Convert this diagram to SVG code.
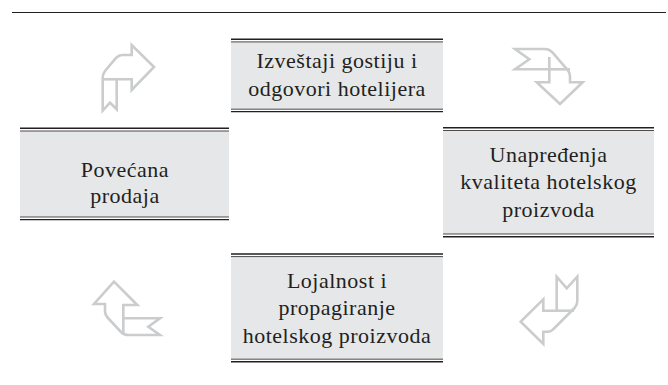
<svg xmlns="http://www.w3.org/2000/svg" width="668" height="385" viewBox="0 0 668 385">
<style>
.box{fill:#e6e7e8;stroke:none}
.thick{stroke:#231f20;stroke-width:1.4;fill:none}
.thin{stroke:#231f20;stroke-width:0.8;fill:none}
.lbl{font-family:"Liberation Serif","Times New Roman",serif;font-size:22px;fill:#231f20;text-anchor:middle;letter-spacing:0.5px}
.arr{fill:none;stroke:#cbcccd;stroke-width:2.6;stroke-linejoin:miter}
</style>
<rect width="668" height="385" fill="#ffffff"/>
<line x1="12" y1="12.5" x2="666" y2="12.5" stroke="#231f20" stroke-width="1.2"/>

<g id="node-top">
<rect class="box" x="231" y="41.7" width="212" height="67.6"/>
<line class="thick" x1="231" y1="39.3" x2="443" y2="39.3"/>
<line class="thin" x1="231" y1="41.9" x2="443" y2="41.9"/>
<line class="thin" x1="231" y1="109.2" x2="443" y2="109.2"/>
<line class="thick" x1="231" y1="111.6" x2="443" y2="111.6"/>
<text class="lbl" x="337" y="68">Izveštaji gostiju i</text>
<text class="lbl" x="337" y="96">odgovori hotelijera</text>
</g>

<g id="node-left">
<rect class="box" x="20" y="131" width="209" height="86"/>
<line class="thick" x1="20" y1="128.3" x2="229" y2="128.3"/>
<line class="thin" x1="20" y1="131" x2="229" y2="131"/>
<line class="thin" x1="20" y1="217" x2="229" y2="217"/>
<line class="thick" x1="20" y1="219.6" x2="229" y2="219.6"/>
<text class="lbl" x="125" y="177">Povećana</text>
<text class="lbl" x="125" y="203">prodaja</text>
</g>

<g id="node-right">
<rect class="box" x="443" y="130.5" width="211" height="103.5"/>
<line class="thick" x1="443" y1="127.7" x2="654" y2="127.7"/>
<line class="thin" x1="443" y1="130.5" x2="654" y2="130.5"/>
<line class="thin" x1="443" y1="234" x2="654" y2="234"/>
<line class="thick" x1="443" y1="236.8" x2="654" y2="236.8"/>
<text class="lbl" x="548.5" y="162">Unapređenja</text>
<text class="lbl" x="548.5" y="189">kvaliteta hotelskog</text>
<text class="lbl" x="548.5" y="217">proizvoda</text>
</g>

<g id="node-bottom">
<rect class="box" x="231" y="256.5" width="212" height="102.7"/>
<line class="thick" x1="231" y1="254" x2="443" y2="254"/>
<line class="thin" x1="231" y1="256.6" x2="443" y2="256.6"/>
<line class="thin" x1="231" y1="359.2" x2="443" y2="359.2"/>
<line class="thick" x1="231" y1="361.8" x2="443" y2="361.8"/>
<text class="lbl" x="337" y="288">Lojalnost i</text>
<text class="lbl" x="337" y="315">propagiranje</text>
<text class="lbl" x="337" y="343">hotelskog proizvoda</text>
</g>

<g id="connectors">
<g id="arrow-top-left">
<path class="arr" d="M154,67 L131.7,45 L131.7,55 L122,55 Q119,55 116,58 L105,71 Q102.7,74 102.7,78 L102.7,110.7 L110,102.7 L116.7,109.3 L116.7,79.3 L131.7,79.3 L131.7,90 Z"/>
<line class="arr" x1="102.7" y1="79.3" x2="116.7" y2="79.3"/>
</g>
<g id="arrow-top-right">
<path class="arr" d="M515,49 L545,49 Q549,49 552,52 L566,68 Q570,72 570,77 L570,82.3 L582.7,82.3 L560,104 L536.7,82.3 L549.3,82.3 L549.3,69.3 L515,69.3 L529.3,59.3 Z"/>
<line class="arr" x1="549.3" y1="69.3" x2="570" y2="69.3"/>
<line class="arr" x1="549.3" y1="69.3" x2="549.3" y2="57"/>
</g>
<g id="arrow-bottom-left">
<path class="arr" d="M114,281.7 L137.3,305 L123.3,305 L123.3,318.3 L160,318.3 L148.3,326.7 L160,335 L128,335 Q124,335 121,332 L108,318 Q105,315 105,311 L105,304 L94,304 Z"/>
<line class="arr" x1="123.3" y1="318.3" x2="123.3" y2="334"/>
</g>
<g id="arrow-bottom-right">
<path class="arr" d="M520.7,321.7 L543.3,299.3 L543.3,310.7 L556.7,310.7 L556.7,276.7 L566.7,288.3 L577.3,276.7 L577.3,301 Q577.3,305 574.5,308 L553,329.5 Q551,331.7 548,331.7 L543.3,331.7 L543.3,344 Z"/>
<line class="arr" x1="556.7" y1="310.7" x2="574" y2="310.7"/>
</g>
</g>
</svg>
